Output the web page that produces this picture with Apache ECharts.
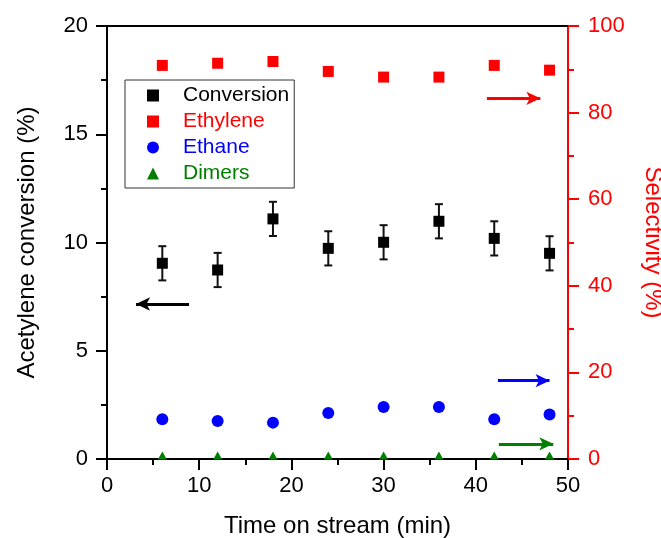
<!DOCTYPE html>
<html>
<head>
<meta charset="utf-8">
<script src="https://cdn.jsdelivr.net/npm/echarts@6/dist/echarts.min.js"></script>
<style>
  html, body { margin: 0; padding: 0; background: #fff; }
  #chart { width: 661px; height: 538px; }
</style>
</head>
<body>
<div id="chart"></div>
<script>
// time on stream (min)
const times = [6, 12, 18, 24, 30, 36, 42, 48];
// acetylene conversion (%) and its error
const conversion = [9.04, 8.73, 11.09, 9.73, 10.01, 10.98, 10.19, 9.5];
const convError = [0.79, 0.79, 0.79, 0.79, 0.79, 0.79, 0.79, 0.79];
// selectivities (%)
const ethylene = [90.9, 91.4, 91.8, 89.5, 88.2, 88.2, 90.9, 89.8];
const ethane = [9.2, 8.8, 8.4, 10.6, 12.0, 12.0, 9.2, 10.3];
const dimers = [0.8, 0.8, 0.8, 0.8, 0.8, 0.8, 0.8, 0.8];

// arrows pointing to the axis each group belongs to: [[x1, y1], [x2, y2]]
const arrowConv = [[8.9, 7.16], [3.15, 7.16]];
const arrowEthylene = [[41.2, 83.3], [47.0, 83.3]];
const arrowEthane = [[42.4, 18.1], [48.0, 18.1]];
const arrowDimers = [[42.5, 3.5], [48.4, 3.5]];

const font = "'Liberation Sans', Arial, sans-serif";

function zip(xs, ys) {
  return xs.map((x, i) => [x, ys[i]]);
}

function arrow(coords, color) {
  return {
    silent: true,
    symbol: ["none", "arrow"],
    symbolSize: [10, 14],
    label: { show: false },
    lineStyle: { color: color, width: 3, type: "solid", opacity: 1 },
    data: [[{ coord: coords[0] }, { coord: coords[1] }]],
  };
}

let chart = echarts.init(document.getElementById("chart"));

let config = {
  backgroundColor: "#fff",
  animation: false,
  textStyle: { fontFamily: font },
  grid: { left: 107, right: 93, top: 26, bottom: 79, containLabel: false, outerBoundsMode: "none" },
  legend: {
    orient: "vertical",
    left: 125,
    top: 80,
    padding: [5, 5, 4, 22],
    itemGap: 5,
    itemWidth: 12,
    itemHeight: 12,
    borderColor: "#333",
    borderWidth: 1,
    textStyle: { fontSize: 21, fontFamily: font, padding: [0, 0, 0, 19] },
    data: [
      { name: "Conversion", textStyle: { color: "#000" } },
      { name: "Ethylene", textStyle: { color: "#ff0000" } },
      { name: "Ethane", textStyle: { color: "#0000ff" } },
      { name: "Dimers", textStyle: { color: "#008000" } },
    ],
  },
  xAxis: [
    {
      type: "value",
      min: 0,
      max: 50,
      interval: 10,
      name: "Time on stream (min)",
      nameLocation: "middle",
      nameGap: 55,
      nameTextStyle: { fontSize: 24, color: "#000", fontFamily: font },
      axisLine: { onZero: false, lineStyle: { color: "#000", width: 2 } },
      axisTick: { inside: false, length: 11, lineStyle: { width: 2, color: "#000" } },
      minorTick: { show: true, splitNumber: 2, length: 6, lineStyle: { width: 2, color: "#000" } },
      axisLabel: { fontSize: 22, color: "#000", margin: 16, fontFamily: font },
      splitLine: { show: false },
    },
    {
      type: "value",
      position: "top",
      min: 0,
      max: 50,
      axisLine: { show: true, onZero: false, lineStyle: { color: "#000", width: 2 } },
      axisTick: { show: false },
      axisLabel: { show: false },
      splitLine: { show: false },
    },
  ],
  yAxis: [
    {
      type: "value",
      position: "left",
      min: 0,
      max: 20,
      interval: 5,
      name: "Acetylene conversion (%)",
      nameLocation: "middle",
      nameGap: 68,
      nameTextStyle: { fontSize: 24, color: "#000", fontFamily: font },
      axisLine: { show: true, onZero: false, lineStyle: { color: "#000", width: 2 } },
      axisTick: { inside: false, length: 11, lineStyle: { width: 2, color: "#000" } },
      minorTick: { show: true, splitNumber: 2, length: 6, lineStyle: { width: 2, color: "#000" } },
      axisLabel: { fontSize: 22, color: "#000", margin: 19, fontFamily: font },
      splitLine: { show: false },
    },
    {
      type: "value",
      position: "right",
      min: 0,
      max: 100,
      interval: 20,
      name: "Selectivity (%)",
      nameLocation: "middle",
      nameGap: 73,
      nameRotate: -90,
      nameTextStyle: { fontSize: 24, color: "#ff0000", fontFamily: font },
      axisLine: { show: true, onZero: false, lineStyle: { color: "#ff0000", width: 2 } },
      axisTick: { inside: false, length: 11, lineStyle: { width: 2, color: "#ff0000" } },
      minorTick: { show: true, splitNumber: 2, length: 6, lineStyle: { width: 2, color: "#ff0000" } },
      axisLabel: { fontSize: 22, color: "#ff0000", margin: 20, fontFamily: font },
      splitLine: { show: false },
    },
  ],
  series: [
    {
      name: "ConvError",
      type: "custom",
      xAxisIndex: 0,
      yAxisIndex: 0,
      silent: true,
      z: 1,
      data: times.map((t, i) => [t, conversion[i], convError[i]]),
      renderItem: function (params, api) {
        const x = api.value(0);
        const y = api.value(1);
        const e = api.value(2);
        const top = api.coord([x, y + e]);
        const bot = api.coord([x, y - e]);
        const cap = 4;
        const style = { stroke: "#111", lineWidth: 2 };
        return {
          type: "group",
          children: [
            { type: "line", shape: { x1: top[0], y1: top[1], x2: bot[0], y2: bot[1] }, style: style },
            { type: "line", shape: { x1: top[0] - cap, y1: top[1], x2: top[0] + cap, y2: top[1] }, style: style },
            { type: "line", shape: { x1: bot[0] - cap, y1: bot[1], x2: bot[0] + cap, y2: bot[1] }, style: style },
          ],
        };
      },
    },
    {
      name: "Conversion",
      type: "scatter",
      yAxisIndex: 0,
      symbol: "rect",
      symbolSize: 11,
      itemStyle: { color: "#000", opacity: 1 },
      z: 3,
      data: zip(times, conversion),
      markLine: arrow(arrowConv, "#000"),
    },
    {
      name: "Ethylene",
      type: "scatter",
      yAxisIndex: 1,
      symbol: "rect",
      symbolSize: 11,
      itemStyle: { color: "#ff0000", opacity: 1 },
      data: zip(times, ethylene),
      markLine: arrow(arrowEthylene, "#ff0000"),
    },
    {
      name: "Ethane",
      type: "scatter",
      yAxisIndex: 1,
      symbol: "circle",
      symbolSize: 12,
      itemStyle: { color: "#0000ff", opacity: 1 },
      data: zip(times, ethane),
      markLine: arrow(arrowEthane, "#0000ff"),
    },
    {
      name: "Dimers",
      type: "scatter",
      yAxisIndex: 1,
      symbol: "triangle",
      symbolSize: [9, 8],
      itemStyle: { color: "#008000", opacity: 1 },
      data: zip(times, dimers),
      markLine: arrow(arrowDimers, "#008000"),
    },
  ],
};

chart.setOption(config);
</script>
</body>
</html>
